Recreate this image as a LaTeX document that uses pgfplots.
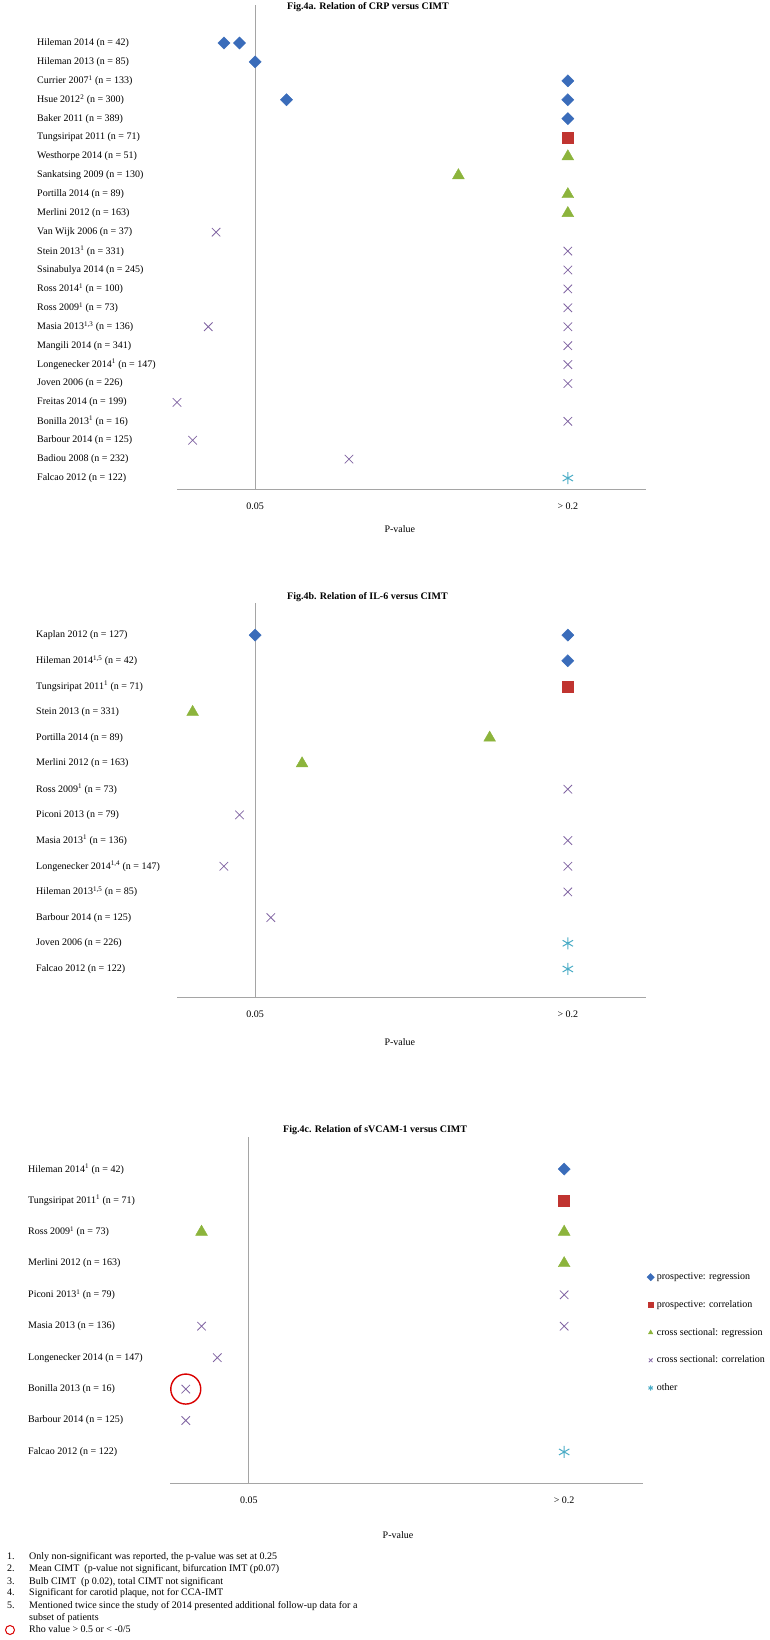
\documentclass[border=0pt]{standalone}
\usepackage{fontspec}
\setmainfont{Liberation Serif}
\usepackage{pgfplots}
\pgfplotsset{compat=1.18}

\definecolor{regblue}{RGB}{58,108,186}
\definecolor{corred}{RGB}{192,52,48}
\definecolor{csgreen}{RGB}{140,180,60}
\definecolor{cspurple}{RGB}{128,100,162}
\definecolor{othcyan}{RGB}{75,172,198}
\definecolor{axisgray}{RGB}{165,165,165}

% one row per study, y = -row so the first study sits on top
\pgfplotsset{
  forest/.style={
    scale only axis, clip=false,
    xmin=0, xmax=0.3,
    axis lines*=left,
    y axis line style={draw=none},
    x axis line style={axisgray, line width=1pt},
    xtick={0.05,0.25}, xticklabels={0.05,{> 0.2}},
    major tick length=0pt,
    extra x ticks={0.05}, extra x tick labels={},
    extra x tick style={grid=major, major grid style={axisgray, line width=1pt}},
    xticklabel style={anchor=north, inner sep=0pt, yshift=-12.5pt},
    yticklabel style={anchor=west, inner sep=0pt},
    ticklabel style={font=\fontsize{10}{12}\selectfont},
    xlabel={P-value},
    label style={font=\fontsize{10}{12}\selectfont},
    title style={font=\bfseries\fontsize{10}{12}\selectfont, anchor=west, inner sep=0pt},
    legend image code/.code={\draw[##1, mark size=2.6pt] plot coordinates {(0cm,0cm)};},
  },
  diam/.style={only marks, color=regblue, mark=square*, mark size=4.3pt,
    mark options={rotate=45, fill=regblue, draw=regblue}},
  sq/.style={only marks, color=corred, mark=square*, mark size=5.5pt,
    mark options={fill=corred, draw=corred}},
  tri/.style={only marks, color=csgreen, mark=triangle*, mark size=6.8pt,
    mark options={fill=csgreen, draw=csgreen}},
  xm/.style={only marks, color=cspurple, mark=x, mark size=6pt, line width=0.8pt},
  ast/.style={only marks, color=othcyan, mark=asterisk, mark size=6pt, line width=1pt},
}

\begin{document}
\begin{tikzpicture}
\useasboundingbox (0pt,0pt) rectangle (770pt,1640pt);

% ---------------- Fig.4a ----------------
\begin{axis}[forest,
  at={(177pt,1150pt)}, anchor=south west, width=469pt, height=485pt,
  ymin=-23.63, ymax=2.01, ytick={-23,...,0},
  yticklabels={
    {Falcao 2012 (n = 122)},
    {Badiou 2008 (n = 232)},
    {Barbour 2014 (n = 125)},
    {Bonilla 2013\textsuperscript{1} (n = 16)},
    {Freitas 2014 (n = 199)},
    {Joven 2006 (n = 226)},
    {Longenecker 2014\textsuperscript{1} (n = 147)},
    {Mangili 2014 (n = 341)},
    {Masia 2013\textsuperscript{1,3} (n = 136)},
    {Ross 2009\textsuperscript{1} (n = 73)},
    {Ross 2014\textsuperscript{1} (n = 100)},
    {Ssinabulya 2014 (n = 245)},
    {Stein 2013\textsuperscript{1} (n = 331)},
    {Van Wijk 2006 (n = 37)},
    {Merlini 2012 (n =  163)},
    {Portilla 2014 (n = 89)},
    {Sankatsing 2009 (n = 130)},
    {Westhorpe 2014 (n = 51)},
    {Tungsiripat 2011 (n = 71)},
    {Baker 2011 (n = 389)},
    {Hsue 2012\textsuperscript{2} (n = 300)},
    {Currier 2007\textsuperscript{1} (n = 133)},
    {Hileman 2013 (n = 85)},
    {Hileman 2014 (n = 42)}},
  yticklabel style={xshift=-140pt},
  title={Fig.4a. Relation of CRP versus CIMT},
  title style={at={(axis description cs:0.2345,1)}, yshift=-8pt},
  xlabel style={at={(axis description cs:0.475,0)}, anchor=center, yshift=-39pt},
]
\addplot[diam] coordinates {(0.03,0) (0.04,0) (0.05,-1) (0.25,-2) (0.07,-3) (0.25,-3) (0.25,-4)};
\addplot[sq] coordinates {(0.25,-5)};
\addplot[tri] coordinates {(0.25,-6) (0.18,-7) (0.25,-8) (0.25,-9)};
\addplot[xm] coordinates {(0.025,-10) (0.25,-11) (0.25,-12) (0.25,-13) (0.25,-14)
  (0.02,-15) (0.25,-15) (0.25,-16) (0.25,-17) (0.25,-18) (0.0,-19) (0.25,-20)
  (0.01,-21) (0.11,-22)};
\addplot[ast] coordinates {(0.25,-23)};
\end{axis}

% ---------------- Fig.4b ----------------
\begin{axis}[forest,
  at={(177pt,642pt)}, anchor=south west, width=469pt, height=395pt,
  ymin=-14.13, ymax=1.25, ytick={-13,...,0},
  yticklabels={
    {Falcao 2012 (n = 122)},
    {Joven 2006 (n = 226)},
    {Barbour 2014 (n = 125)},
    {Hileman 2013\textsuperscript{1,5} (n = 85)},
    {Longenecker 2014\textsuperscript{1,4} (n = 147)},
    {Masia 2013\textsuperscript{1} (n = 136)},
    {Piconi 2013 (n = 79)},
    {Ross 2009\textsuperscript{1} (n = 73)},
    {Merlini 2012 (n = 163)},
    {Portilla 2014 (n = 89)},
    {Stein 2013 (n = 331)},
    {Tungsiripat 2011\textsuperscript{1} (n = 71)},
    {Hileman 2014\textsuperscript{1,5} (n = 42)},
    {Kaplan 2012 (n = 127)}},
  yticklabel style={xshift=-141pt},
  title={Fig.4b. Relation of IL-6 versus CIMT},
  title style={at={(axis description cs:0.2345,1)}, yshift=0pt},
  xlabel style={at={(axis description cs:0.475,0)}, anchor=center, yshift=-44pt},
]
\addplot[diam] coordinates {(0.05,0) (0.25,0) (0.25,-1)};
\addplot[sq] coordinates {(0.25,-2)};
\addplot[tri] coordinates {(0.01,-3) (0.20,-4) (0.08,-5)};
\addplot[xm] coordinates {(0.25,-6) (0.04,-7) (0.25,-8) (0.03,-9) (0.25,-9)
  (0.25,-10) (0.06,-11)};
\addplot[ast] coordinates {(0.25,-12) (0.25,-13)};
\end{axis}

% ---------------- Fig.4c ----------------
\begin{axis}[forest,
  at={(170pt,156pt)}, anchor=south west, width=473pt, height=347pt,
  ymin=-10.02, ymax=1.02, ytick={-9,...,0},
  yticklabels={
    {Falcao 2012 (n = 122)},
    {Barbour 2014 (n =  125)},
    {Bonilla 2013 (n = 16)},
    {Longenecker 2014 (n = 147)},
    {Masia 2013 (n = 136)},
    {Piconi 2013\textsuperscript{1} (n = 79)},
    {Merlini 2012 (n = 163)},
    {Ross 2009\textsuperscript{1} (n = 73)},
    {Tungsiripat 2011\textsuperscript{1} (n = 71)},
    {Hileman 2014\textsuperscript{1} (n = 42)}},
  yticklabel style={xshift=-142pt},
  title={Fig.4c. Relation of sVCAM-1 versus CIMT},
  title style={at={(axis description cs:0.239,1)}, yshift=1pt},
  xlabel style={at={(axis description cs:0.482,0)}, anchor=center, yshift=-51pt},
  legend style={at={(axis description cs:1.008,0.611)}, anchor=north west,
    draw=none, fill=none, inner sep=0pt, row sep=17.7pt, /tikz/column sep=2pt,
    font=\fontsize{10}{12}\selectfont,
    nodes={inner sep=0.5pt, text height=7pt, text depth=2pt}},
  legend cell align=left,
]
\addplot[diam] coordinates {(0.25,0)};
\addlegendentry{prospective: regression}
\addplot[sq] coordinates {(0.25,-1)};
\addlegendentry{prospective: correlation}
\addplot[tri] coordinates {(0.02,-2) (0.25,-2) (0.25,-3)};
\addlegendentry{cross sectional: regression}
\addplot[xm] coordinates {(0.25,-4) (0.02,-5) (0.25,-5) (0.03,-6) (0.01,-7) (0.01,-8)};
\addlegendentry{cross sectional: correlation}
\addplot[ast] coordinates {(0.25,-9)};
\addlegendentry{other}
\addplot[forget plot, only marks, mark=o, mark size=15pt, color=red!85!black, line width=1.4pt]
  coordinates {(0.01,-7)};
\end{axis}

% ---------------- footnotes ----------------
\begin{scope}[every node/.style={anchor=base west, inner sep=0pt, font=\fontsize{10}{11}\selectfont}]
\node at (7pt,80pt) {1.};
\node at (29pt,80pt) {Only non-significant was reported, the p-value was set at 0.25};
\node at (7pt,68pt) {2.};
\node at (29pt,68pt) {Mean CIMT \ (p-value not significant, bifurcation IMT (p0.07)};
\node at (7pt,55pt) {3.};
\node at (29pt,55pt) {Bulb CIMT \ (p 0.02), total CIMT not significant};
\node at (7pt,44pt) {4.};
\node at (29pt,44pt) {Significant for carotid plaque, not for CCA-IMT};
\node at (7pt,31pt) {5.};
\node at (29pt,31pt) {Mentioned twice since the study of 2014 presented additional follow-up data for a};
\node at (29pt,19pt) {subset of patients};
\node at (29pt,7pt) {Rho value > 0.5 or < -0/5};
\end{scope}
\node[circle, draw=red!85!black, line width=1pt, minimum size=9pt, inner sep=0pt] at (10pt,10pt) {};
\end{tikzpicture}
\end{document}
